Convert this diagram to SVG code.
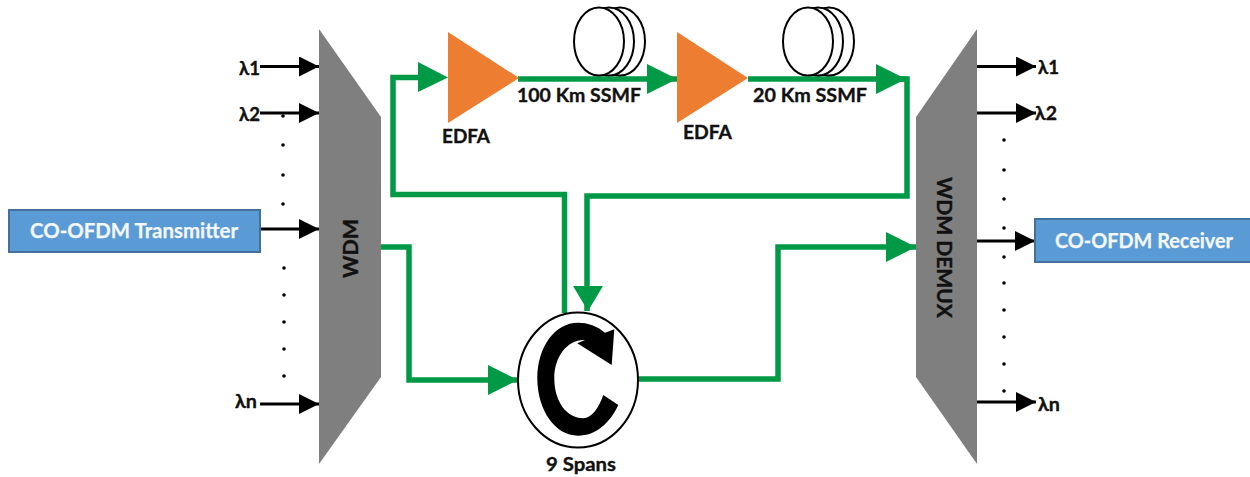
<svg xmlns="http://www.w3.org/2000/svg" width="1250" height="477" viewBox="0 0 1250 477">
<style>
text{font-family:"Lato","Open Sans","DejaVu Sans",sans-serif;font-weight:700;fill:#111;stroke:#111;stroke-width:.35}
.t{font-size:19px}
.r{font-size:20px}
.w{font-size:21px;fill:#f4f8fc;stroke:#f4f8fc;stroke-width:.25}
.g{stroke:#009a46;stroke-width:5.500;fill:none;stroke-linejoin:miter}
.gh{fill:#009a46}
.k{stroke:#000;stroke-width:3;fill:none}
.ah{fill:#000}
.mux{fill:#7f7f7f}
.amp{fill:#ed7d31}
.box{fill:#5b9bd5;stroke:#41719c;stroke-width:2}
.coil{fill:#fff;stroke:#000;stroke-width:2}
.d{fill:#000}
</style>
<defs>
<marker id="ka" markerUnits="userSpaceOnUse" markerWidth="20" markerHeight="20" refX="20" refY="10" orient="auto"><path class="ah" d="M0 0L20 10L0 20Z"/></marker>
<marker id="ga" markerUnits="userSpaceOnUse" markerWidth="30" markerHeight="30" refX="30" refY="15" orient="auto"><path class="gh" d="M0 0L30 15L0 30Z"/></marker>
<g id="dot"><circle r="1.800" class="d"/></g>
</defs>

<g id="connectors">
<path class="k" d="M260 66.500H319" marker-end="url(#ka)"/>
<path class="k" d="M260 113H319" marker-end="url(#ka)"/>
<path class="k" d="M260 229H319" marker-end="url(#ka)"/>
<path class="k" d="M260 404H319" marker-end="url(#ka)"/>
<path class="k" d="M977 66.500H1036" marker-end="url(#ka)"/>
<path class="k" d="M977 113H1036" marker-end="url(#ka)"/>
<path class="k" d="M977 241H1035" marker-end="url(#ka)"/>
<path class="k" d="M977 402H1036" marker-end="url(#ka)"/>
<path class="g" d="M518 79H677" marker-end="url(#ga)"/>
<path class="g" d="M748 79H906" marker-end="url(#ga)"/>
<path class="g" d="M900 79H907V196H587V311"/>
<path class="gh" d="M573 286H603L588 311Z"/>
<path class="g" d="M564.500 313V194.500H393V77.500H425"/>
<path class="gh" d="M418 62L448 77.500L418 92Z"/>
<path class="g" d="M381 247H409V380H518" marker-end="url(#ga)"/>
<path class="g" d="M638 379H778V247H916" marker-end="url(#ga)"/>
</g>

<g id="wdm">
<path class="mux" d="M319 29L381 117V377L319 464Z"/>
<text class="r" transform="translate(358 278) rotate(-90)" textLength="59" lengthAdjust="spacingAndGlyphs">WDM</text>
</g>
<g id="wdm-demux">
<path class="mux" d="M977 29L916 117V377L977 464Z"/>
<text class="r" transform="translate(937 177) rotate(90)" textLength="141" lengthAdjust="spacingAndGlyphs">WDM DEMUX</text>
</g>
<g id="transmitter">
<rect class="box" x="9" y="210" width="251" height="42"/>
<text class="w" x="30" y="238" textLength="208" lengthAdjust="spacingAndGlyphs">CO-OFDM Transmitter</text>
</g>
<g id="receiver">
<rect class="box" x="1035" y="219" width="216" height="43"/>
<text class="w" x="1055" y="248" textLength="178" lengthAdjust="spacingAndGlyphs">CO-OFDM Receiver</text>
</g>
<g id="edfa1">
<path class="amp" d="M448 32L519 78L448 123Z"/>
<text class="t" x="442" y="143" textLength="48" lengthAdjust="spacingAndGlyphs">EDFA</text>
</g>
<g id="edfa2">
<path class="amp" d="M677 32L748 78L677 123Z"/>
<text class="t" x="683" y="139" textLength="49" lengthAdjust="spacingAndGlyphs">EDFA</text>
</g>
<g id="fiber1">
<ellipse class="coil" cx="620" cy="41.500" rx="25" ry="34"/>
<ellipse class="coil" cx="609" cy="41.500" rx="25" ry="34"/>
<ellipse class="coil" cx="599" cy="41.500" rx="25" ry="34"/>
<text class="t" x="517" y="102" textLength="124" lengthAdjust="spacingAndGlyphs">100 Km SSMF</text>
</g>
<g id="fiber2">
<ellipse class="coil" cx="829" cy="41.500" rx="25" ry="34"/>
<ellipse class="coil" cx="818" cy="41.500" rx="25" ry="34"/>
<ellipse class="coil" cx="808" cy="41.500" rx="25" ry="34"/>
<text class="t" x="753" y="102" textLength="114" lengthAdjust="spacingAndGlyphs">20 Km SSMF</text>
</g>
<g id="loop">
<ellipse cx="578" cy="380" rx="60" ry="67.500" fill="#fff" stroke="#000" stroke-width="2"/>
<path fill="#000" d="M614.300 329.300L611.700 365L577.300 343.300L585 340C568 339 554.300 356 554.300 378.300C554.300 402 567 418.300 583.300 418.300C592 418.300 599 407 603.300 395L618.300 405C610 423 596 435.700 578 435.700C555 435.700 537.300 410 537.300 378.300C537.300 347 555 322.700 578 322.700C588 322.700 597 326 605 332.700Z"/>
<text class="t" x="546" y="471" textLength="70" lengthAdjust="spacingAndGlyphs">9 Spans</text>
</g>

<g id="inputs">
<text class="t" x="239" y="75" textLength="21" lengthAdjust="spacingAndGlyphs">λ1</text>
<text class="t" x="239" y="121" textLength="21" lengthAdjust="spacingAndGlyphs">λ2</text>
<text class="t" x="235" y="408" textLength="22" lengthAdjust="spacingAndGlyphs">λn</text>
<use href="#dot" x="283" y="116"/><use href="#dot" x="283" y="145"/><use href="#dot" x="283" y="175"/><use href="#dot" x="283" y="204"/>
<use href="#dot" x="284" y="268"/><use href="#dot" x="284" y="295"/><use href="#dot" x="284" y="322"/><use href="#dot" x="284" y="349"/><use href="#dot" x="284" y="376"/>
</g>
<g id="outputs">
<text class="t" x="1038" y="74" textLength="21" lengthAdjust="spacingAndGlyphs">λ1</text>
<text class="t" x="1035" y="120" textLength="22" lengthAdjust="spacingAndGlyphs">λ2</text>
<text class="t" x="1038" y="411" textLength="22" lengthAdjust="spacingAndGlyphs">λn</text>
<use href="#dot" x="1004" y="140"/><use href="#dot" x="1004" y="170"/><use href="#dot" x="1004" y="199"/><use href="#dot" x="1004" y="228"/><use href="#dot" x="1004" y="257"/>
<use href="#dot" x="1004" y="283"/><use href="#dot" x="1004" y="310"/><use href="#dot" x="1004" y="337"/><use href="#dot" x="1004" y="364"/><use href="#dot" x="1004" y="391"/>
</g>
</svg>
